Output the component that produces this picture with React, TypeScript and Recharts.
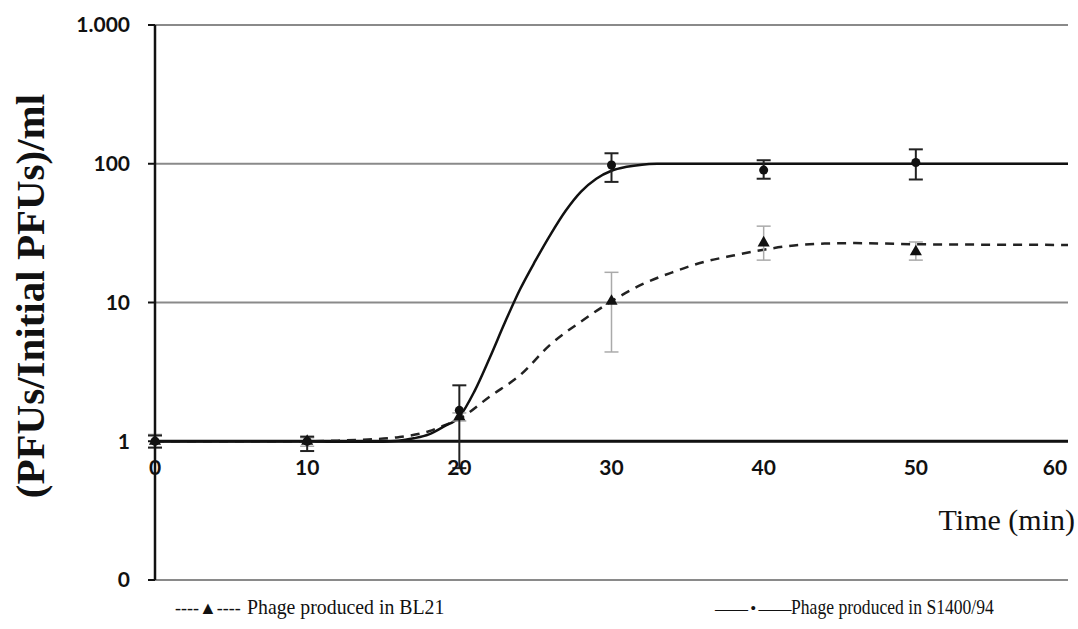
import React from "react";
import {
  ComposedChart,
  Line,
  Scatter,
  ErrorBar,
  XAxis,
  YAxis,
  CartesianGrid,
  ReferenceLine,
  ReferenceDot,
} from "recharts";

// fitted curves
const curveTimes = [0, 5, 10, 12, 14, 16, 17, 18, 19, 20, 21, 22, 23, 24, 25, 26, 27, 28, 29, 30, 31, 32, 33, 34, 36, 40, 45, 50, 55, 60];
const s1400Curve = [1, 1, 1, 0.99, 0.99, 1.01, 1.05, 1.12, 1.28, 1.5, 2.3, 4.0, 7.2, 12.5, 20, 31, 46, 63, 78, 89, 95, 98.5, 99.8, 100, 100, 100, 100, 100, 100, 100];

const bl21Times = [0, 5, 10, 12, 14, 16, 18, 19, 20, 22, 24, 26, 28, 30, 32, 34, 36, 38, 40, 42, 44, 46, 48, 50, 55, 60];
const bl21Curve = [1, 1, 1, 1.01, 1.03, 1.07, 1.18, 1.3, 1.45, 2.1, 3.0, 5.0, 7.3, 10.2, 13.5, 16.5, 19.5, 21.8, 24, 25.8, 26.6, 26.8, 26.6, 26.3, 26.1, 26];

// measured points with error bars
const pointTimes = [0, 10, 20, 30, 40, 50];
const s1400Values = [1, 1, 1.67, 98, 90, 102];
const s1400Low = [0.9, 0.85, 0.64, 74, 78, 77];
const s1400High = [1.1, 1.08, 2.53, 119, 106, 127];

const bl21Values = [1, 1, 1.5, 10.2, 26.9, 23.2];
const bl21Low = [0.9, 0.92, 1.4, 4.4, 20.2, 20.2];
const bl21High = [1.12, 1.06, 1.6, 16.5, 35.5, 27.3];

const xTicks = [0, 10, 20, 30, 40, 50, 60];
const yTicks = [0.1, 1, 10, 100, 1000];

const s1400Line = curveTimes.map((t, i) => ({ t, v: s1400Curve[i] }));
const bl21Line = bl21Times.map((t, i) => ({ t, v: bl21Curve[i] }));
const s1400Pts = pointTimes.map((t, i) => ({
  t,
  v: s1400Values[i],
  err: [s1400Values[i] - s1400Low[i], s1400High[i] - s1400Values[i]],
}));
const bl21Pts = pointTimes.map((t, i) => ({
  t,
  v: bl21Values[i],
  err: [bl21Values[i] - bl21Low[i], bl21High[i] - bl21Values[i]],
}));

const yFormat = (v: number) => (v === 1000 ? "1.000" : v < 1 ? "0" : String(v));

const tickFont = "Lato, 'Open Sans', sans-serif";
const serif = "'Liberation Serif', 'Times New Roman', Times, serif";

// x tick label drawn under the y=1 line
const XTickLabel = (props: any) => {
  const { viewBox, value, shift } = props;
  const cx = viewBox.x + (viewBox.width || 0) / 2 + (shift || 0);
  const cy = viewBox.y + (viewBox.height || 0) / 2;
  return (
    <text
      x={cx}
      y={cy + 34}
      textAnchor="middle"
      fill="#111"
      fontSize={21}
      fontWeight={700}
      fontFamily={tickFont}
    >
      {value}
    </text>
  );
};

const legendText: React.CSSProperties = {
  display: "inline-block",
  transformOrigin: "left center",
};

export default function App() {
  return (
    <div style={{ position: "absolute", left: 0, top: 0, width: 1078, height: 629, background: "#fff" }}>
      <ComposedChart width={1078} height={600} margin={{ top: 25, right: 10, bottom: 20, left: 95 }}>
        <CartesianGrid vertical={false} stroke="#8a8a8a" strokeWidth={2} />
        <XAxis dataKey="t" type="number" domain={[0, 60]} ticks={xTicks} hide allowDuplicatedCategory={false} />
        <YAxis
          scale="log"
          domain={[0.1, 1000]}
          ticks={yTicks}
          allowDataOverflow
          width={60}
          tickFormatter={yFormat}
          axisLine={{ stroke: "#111", strokeWidth: 2.5 }}
          tickLine={{ stroke: "#111", strokeWidth: 2 }}
          tickSize={7}
          tickMargin={18}
          tick={{ fill: "#111", fontSize: 21, fontWeight: 700, fontFamily: tickFont }}
        />
        <ReferenceLine y={1} stroke="#111" strokeWidth={3} />
        {xTicks.map((t) => (
          <ReferenceDot
            key={t}
            x={t}
            y={1}
            r={0}
            fill="none"
            stroke="none"
            label={<XTickLabel value={String(t)} shift={t === 60 ? -13 : 0} />}
          />
        ))}
        <Line
          data={bl21Line}
          dataKey="v"
          type="monotone"
          stroke="#222"
          strokeWidth={2.5}
          strokeDasharray="9 7"
          dot={false}
          isAnimationActive={false}
        />
        <Line
          data={s1400Line}
          dataKey="v"
          type="monotone"
          stroke="#111"
          strokeWidth={2.5}
          dot={false}
          isAnimationActive={false}
        />
        <Scatter data={bl21Pts} dataKey="v" fill="#111" shape="triangle" isAnimationActive={false}>
          <ErrorBar dataKey="err" direction="y" width={7} stroke="#aaa" strokeWidth={1.5} />
        </Scatter>
        <Scatter data={s1400Pts} dataKey="v" fill="#111" shape="circle" isAnimationActive={false}>
          <ErrorBar dataKey="err" direction="y" width={7} stroke="#222" strokeWidth={2} />
        </Scatter>
      </ComposedChart>

      <div
        style={{
          position: "absolute",
          left: 30,
          top: 296,
          transform: "translate(-50%, -50%) rotate(-90deg)",
          whiteSpace: "nowrap",
          fontFamily: serif,
          fontWeight: 700,
          fontSize: 41,
          color: "#111",
        }}
      >
        (PFUs/Initial PFUs)/ml
      </div>

      <div
        style={{
          position: "absolute",
          right: 3,
          top: 503,
          fontFamily: serif,
          fontSize: 30,
          color: "#111",
        }}
      >
        Time (min)
      </div>

      <div
        style={{
          position: "absolute",
          left: 175,
          top: 594,
          fontFamily: serif,
          fontSize: 22,
          color: "#111",
          whiteSpace: "nowrap",
        }}
      >
        <span style={{ fontSize: 18 }}>----▲----</span>
        <span style={{ ...legendText, marginLeft: 6, transform: "scaleX(0.9)" }}>Phage produced in BL21</span>
      </div>
      <div
        style={{
          position: "absolute",
          left: 715,
          top: 594,
          fontFamily: serif,
          fontSize: 22,
          color: "#111",
          whiteSpace: "nowrap",
        }}
      >
        <span style={{ fontSize: 17, letterSpacing: -1 }}>—— • ——</span>
        <span style={{ ...legendText, marginLeft: 1, transform: "scaleX(0.8)" }}>Phage produced in S1400/94</span>
      </div>
    </div>
  );
}
